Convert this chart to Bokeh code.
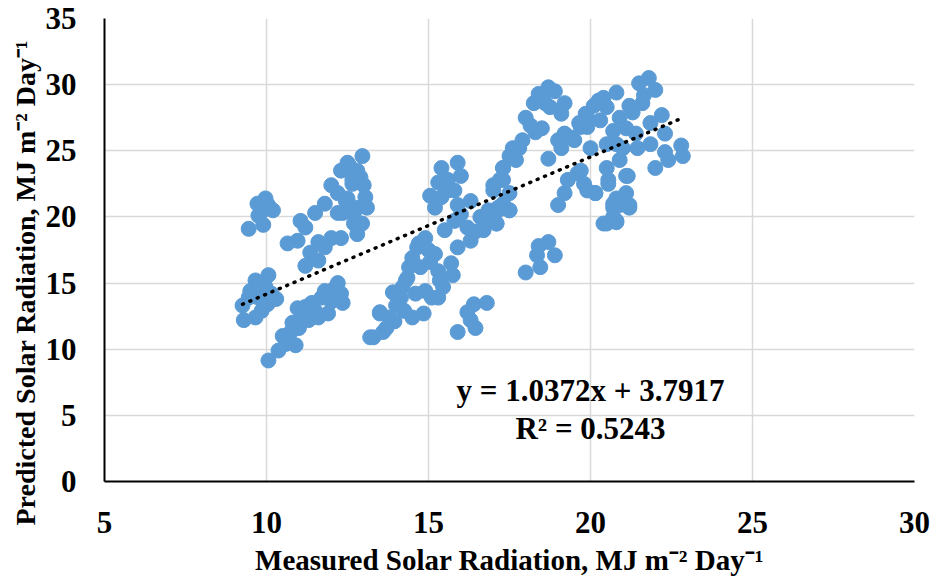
from bokeh.plotting import figure
from bokeh.models import ColumnDataSource, Label, FixedTicker, Title
from bokeh.embed import file_html
from bokeh.resources import INLINE

measured = [
    # cluster near 10, high
    9.72, 9.97, 10.2, 9.9, 9.45, 9.9, 9.75, 10.05,
    # cluster near 10, low
    9.26, 9.3, 9.66, 9.5, 9.66, 10.06, 9.97, 10.3, 10.03, 9.75, 9.45, 9.85, 10.15,
    # lower band 10-12.5
    10.06, 10.37, 10.5, 10.9, 10.96, 11.2, 11.4, 11.8, 12.2, 12.3, 12.35, 11.9, 11.6,
    11.3, 11.0, 10.75, 10.6, 11.1, 11.5, 12.0, 12.1, 10.8, 11.7,
    # upper band 10.5-13
    10.65, 10.96, 11.05, 11.2, 11.5, 11.8, 11.2, 11.6, 11.6, 12.0, 12.3, 11.8, 12.0,
    12.2, 12.65, 13.0, 13.05, 13.1, 12.7, 12.8, 12.95, 12.35, 12.45, 12.5, 12.96,
    12.8, 12.3, 12.96, 12.65, 12.5, 12.75, 12.7, 12.2, 11.35, 12.9, 12.55,
    # lower band 13-15.8
    13.3, 13.6, 13.5, 13.8, 13.9, 14.2, 14.15, 14.35, 14.4, 14.5, 14.7, 14.9, 15.0,
    15.2, 14.75, 14.5, 14.85, 14.9, 15.1, 15.3, 15.3, 15.35, 15.7, 15.75, 15.45,
    13.2, 13.5, 13.7, 14.3, 14.65, 14.0, 14.6, 15.05, 13.95, 14.25,
    # cluster 15-16 high
    15.4, 15.9, 16.0, 15.6, 15.05, 15.2, 15.4, 15.8, 15.9, 15.6, 15.3,
    # middle band 15.5-18
    15.5, 15.9, 15.8, 16.3, 16.3, 16.2, 16.6, 16.7, 17.1, 17.15, 17.0, 17.3, 17.5,
    17.5, 17.3, 17.6, 17.8, 16.0, 16.45, 16.9,
    # small low cluster near 16.5
    15.9, 16.2, 16.4, 16.45, 16.8, 16.3,
    # low cluster near 18.5
    18.0, 18.45, 18.35, 18.7, 18.9, 18.4,
    # upper branch 17.3-19.3
    18.7, 18.4, 18.25, 18.6, 19.2, 19.1, 18.0, 18.15, 18.5, 18.75, 17.6, 17.5, 17.7,
    17.3, 17.9, 18.3, 17.0, 17.2, 16.85, 17.15, 17.5, 16.75, 17.1, 17.3, 18.55, 18.9,
    # cluster 18.7-20.2
    18.7, 19.0, 19.2, 19.5, 19.7, 19.9, 19.1, 19.3, 19.6, 19.8, 19.0, 19.2, 20.15, 19.9,
    19.4, 19.65,
    # big right cluster
    21.8, 21.5, 22.0, 21.6, 20.8, 20.4, 20.1, 19.85, 21.2, 20.5, 19.9, 20.3, 20.9,
    20.7, 21.1, 20.0, 20.5, 20.8, 21.4, 21.85, 22.2, 22.3, 21.85, 21.45, 21.0,
    22.3, 22.8, 22.85, 22.0, 22.4, 20.5, 20.55, 20.9, 21.15, 19.7, 20.15, 20.8, 21.1,
    21.2, 20.7, 20.8, 20.4, 20.7, 20.5, 20.8, 20.9, 21.2, 20.7, 20.55, 21.1, 21.3,
    20.25, 21.65,
]

predicted = [
    21.0, 21.4, 20.5, 20.5, 19.1, 19.4, 20.1, 20.9,
    13.3, 12.2, 12.4, 14.4, 15.2, 15.6, 14.7, 13.8, 13.4, 13.9, 13.9, 12.9, 14.2,
    9.15, 9.9, 11.0, 10.3, 13.1, 13.2, 13.5, 14.4, 15.0, 14.2, 13.5, 12.7, 12.4,
    12.2, 11.6, 11.3, 10.4, 12.6, 12.9, 13.6, 14.6, 12.0, 13.9,
    18.0, 18.2, 19.7, 19.2, 20.3, 21.0, 16.3, 16.7, 18.1, 18.4, 18.4, 17.7, 22.4,
    21.8, 22.5, 22.4, 21.5, 20.7, 19.5, 18.7, 19.5, 20.3, 21.2, 24.1, 24.6,
    23.5, 23.5, 22.5, 22.8, 21.4, 20.7, 20.3, 20.3, 17.3, 23.0, 23.9,
    10.9, 11.3, 12.7, 12.4, 14.3, 14.7, 13.9, 15.4, 16.2, 16.9, 18.0, 18.4, 17.5,
    17.2, 16.2, 12.4, 12.7, 14.4, 13.9, 13.9, 15.9, 15.2, 16.5, 15.6, 14.7,
    10.9, 12.8, 11.6, 15.2, 17.7, 13.3, 14.2, 16.6, 12.1, 12.9,
    23.7, 24.1, 23.1, 22.8, 21.6, 20.7, 21.5, 22.0, 20.9, 22.0, 22.6,
    19.0, 17.7, 19.7, 21.2, 18.2, 19.2, 20.0, 19.0, 19.5, 20.7, 22.0, 22.8, 20.5,
    21.8, 23.7, 24.5, 25.2, 20.2, 18.9, 19.9,
    11.3, 12.8, 13.4, 11.6, 13.5, 12.2,
    15.8, 16.2, 17.1, 18.1, 17.1, 17.8,
    29.8, 29.3, 28.6, 28.6, 28.6, 27.8, 27.5, 26.9, 26.7, 28.3, 25.2, 24.6, 24.3,
    23.7, 25.8, 26.4, 22.4, 22.8, 20.5, 20.5, 20.5, 19.5, 19.5, 21.0, 29.1, 29.5,
    24.4, 25.8, 26.3, 25.8, 26.8, 27.5, 25.2, 22.8, 23.3, 22.5, 20.9, 21.8, 21.8, 22.0,
    26.0, 27.1,
    30.5, 30.1, 29.6, 28.6, 29.4, 29.0, 28.4, 27.8, 28.4, 28.3, 26.8, 27.3, 27.5,
    26.5, 26.7, 25.2, 25.5, 25.5, 26.3, 27.1, 27.7, 26.3, 25.5, 25.2, 25.2,
    24.9, 25.4, 24.6, 23.7, 24.3, 23.7, 22.8, 24.3, 23.1, 23.5, 21.8, 21.4, 21.8,
    20.7, 20.7, 19.6, 19.5, 20.0, 19.5, 19.7, 20.9, 20.9, 21.0, 22.5, 23.1, 27.9,
    28.8, 29.2,
]

x_ticks = [5, 10, 15, 20, 25, 30]
y_ticks = [0, 5, 10, 15, 20, 25, 30, 35]
trend_slope = 1.0372
trend_intercept = 3.7917
r_squared = 0.5243
x_title = "Measured Solar Radiation, MJ m\u207b\u00b2 Day\u207b\u00b9"
y_title = "Predicted Solar Radiation, MJ m\u207b\u00b2 Day\u207b\u00b9"

FONT = "Liberation Serif"
BLUE = "#5B9BD5"
W, H = 934, 578

p = figure(width=W, height=H, output_backend="svg", toolbar_location=None,
           x_range=(5, 30), y_range=(0, 35),
           min_border_left=104, min_border_right=20, min_border_top=18,
           min_border_bottom=97)
p.outline_line_color = None
p.background_fill_color = "white"

src = ColumnDataSource(dict(x=measured, y=predicted))
p.scatter("x", "y", source=src, marker="circle", size=15,
          fill_color=BLUE, line_color=BLUE)

x0, x1 = min(measured), max(measured)
p.line([x0, x1], [trend_slope * x0 + trend_intercept, trend_slope * x1 + trend_intercept],
       line_color="black", line_width=3.5, line_dash="1 7", line_cap="round")

p.xaxis.ticker = FixedTicker(ticks=x_ticks)
p.yaxis.ticker = FixedTicker(ticks=y_ticks)
for ax in (p.xaxis[0], p.yaxis[0]):
    ax.major_tick_line_color = None
    ax.minor_tick_line_color = None
    ax.axis_line_color = "black"
    ax.axis_line_width = 2
    ax.major_label_text_font = FONT
    ax.major_label_text_font_style = "bold"
    ax.major_label_text_font_size = "31px"
    ax.major_label_text_color = "black"
    ax.axis_label_text_font = FONT
    ax.axis_label_text_font_style = "bold"
    ax.axis_label_text_font_size = "29px"
    ax.axis_label_text_color = "black"

p.xaxis.axis_label = x_title
p.xaxis.major_label_standoff = 24
p.yaxis.major_label_standoff = 22
p.xaxis.axis_label_standoff = 8

# y-axis title as a side title, anchored near the bottom so it sits like the reference
p.add_layout(Title(text=y_title, align="left", offset=-44,
                   text_font=FONT, text_font_style="bold", text_font_size="28px",
                   text_color="black", standoff=4), "left")

p.xgrid.ticker = FixedTicker(ticks=x_ticks)
p.ygrid.ticker = FixedTicker(ticks=y_ticks)
p.xgrid.grid_line_color = "#d9d9d9"
p.ygrid.grid_line_color = "#d9d9d9"
p.xgrid.grid_line_width = 1.5
p.ygrid.grid_line_width = 1.5

p.add_layout(Label(x=20.0, y=6.9, text=f"y = {trend_slope}x + {trend_intercept}",
                   text_font=FONT, text_font_style="bold", text_font_size="31px",
                   text_align="center", text_baseline="middle", text_color="black"))
p.add_layout(Label(x=20.0, y=4.0, text=f"R\u00b2 = {r_squared}",
                   text_font=FONT, text_font_style="bold", text_font_size="31px",
                   text_align="center", text_baseline="middle", text_color="black"))

open("out.html", "w").write(file_html(p, INLINE))
